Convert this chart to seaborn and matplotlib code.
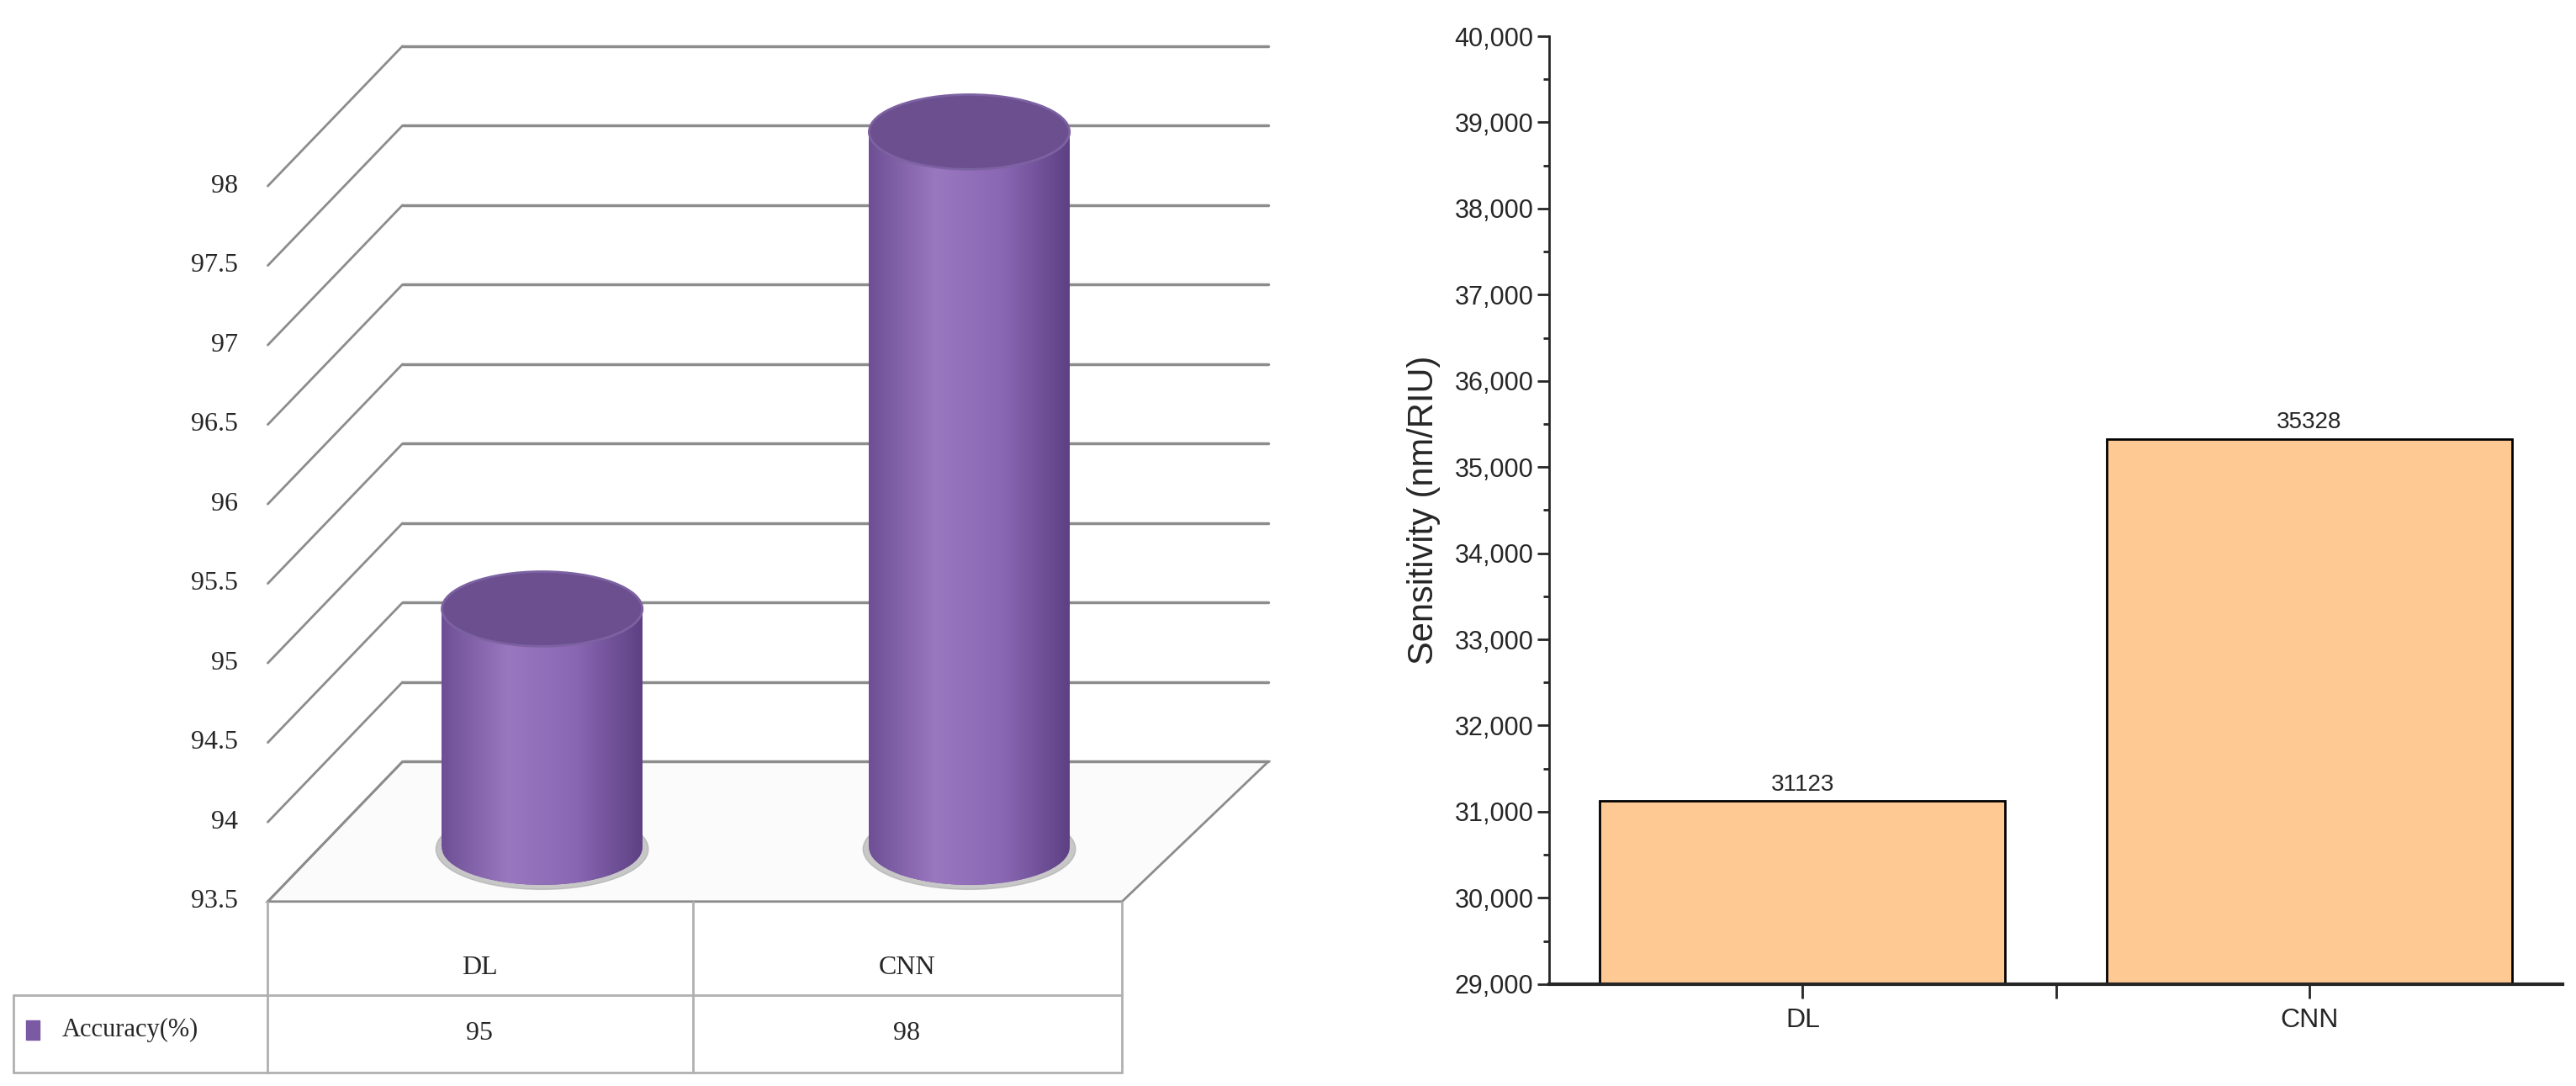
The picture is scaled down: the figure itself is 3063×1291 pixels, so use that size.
import numpy as np
import matplotlib.pyplot as plt
import seaborn as sns
from matplotlib.patches import Ellipse, Polygon
from matplotlib.ticker import FuncFormatter, MultipleLocator
from matplotlib.colors import LinearSegmentedColormap

# data
models = ["DL", "CNN"]
accuracy = [95, 98]
sensitivity = [31123, 35328]
acc_ticks = [93.5, 94, 94.5, 95, 95.5, 96, 96.5, 97, 97.5, 98]

sns.set_style("white")
plt.rcParams['font.family'] = ['Liberation Sans', 'DejaVu Sans']

fig = plt.figure(figsize=(30.63, 12.91), dpi=100)

# ---- left: pseudo-3D cylinder chart ----
ax = fig.add_axes([0, 0, 785 / 1568, 1])
ax.set_xlim(0, 785)
ax.set_ylim(92.34, 99.17)
ax.axis("off")
depth_v = 0.88
grid_c = "#8c8c8c"
for v in acc_ticks:
    ax.plot([163, 245], [v, v + depth_v], color=grid_c, lw=2)
    ax.plot([245, 772], [v + depth_v, v + depth_v], color=grid_c, lw=2.5)
    ax.text(145, v, f"{v:g}", ha="right", va="center", fontsize=23, family="Liberation Serif")
ax.add_patch(Polygon([(163, 93.5), (245, 93.5 + depth_v), (772, 93.5 + depth_v), (683, 93.5)],
                     closed=True, facecolor="#fbfbfb", edgecolor=grid_c, lw=2))

centers = [330, 590]
cyl_w = 122
base = 93.84
cap_h = 0.47
cmap = LinearSegmentedColormap.from_list("cyl", ["#6e4f95", "#9a78c0", "#8a67b3", "#5d4184"])
grad = np.linspace(0, 1, 256).reshape(1, -1)
for cx, val in zip(centers, accuracy):
    top = val + 0.34
    ax.add_patch(Ellipse((cx, base - 0.01), cyl_w * 1.06, cap_h * 1.08, color="#a5a5a5", alpha=0.6, zorder=2))
    bottom_el = Ellipse((cx, base), cyl_w, cap_h, color="#7a5aa3", zorder=2.5, lw=0)
    ax.add_patch(bottom_el)
    ax.imshow(grad, cmap=cmap, aspect="auto", zorder=2.6,
              extent=(cx - cyl_w / 2, cx + cyl_w / 2, base - cap_h / 2, base + cap_h / 2),
              clip_path=bottom_el)
    bars = ax.bar(cx, top - base, bottom=base, width=cyl_w, color="#8a67b3", zorder=3, lw=0)
    im = ax.imshow(grad, cmap=cmap, aspect="auto", zorder=3,
                   extent=(cx - cyl_w / 2, cx + cyl_w / 2, base, top))
    im.set_clip_path(bars[0])
    bars[0].set_visible(False)
    ax.add_patch(Ellipse((cx, top), cyl_w, cap_h, facecolor="#6b4f8f", edgecolor="#7d62a3", lw=2, zorder=4))
ax.set_xlim(0, 785)
ax.set_ylim(92.34, 99.17)

# data table under the chart
px = 96.6
def yv(p):
    return 93.5 - (p - 548) / px
tc = "#b0b0b0"
ax.plot([163, 163], [yv(548), yv(652)], color=tc, lw=2)
for x in [422, 683]:
    ax.plot([x, x], [yv(548), yv(652)], color=tc, lw=2)
ax.plot([8, 8], [yv(605), yv(652)], color=tc, lw=2)
ax.plot([8, 683], [yv(605), yv(605)], color=tc, lw=2)
ax.plot([8, 683], [yv(652), yv(652)], color=tc, lw=2)
for cx, name, val in zip([292, 552], models, accuracy):
    ax.text(cx, yv(588), name, ha="center", va="center", fontsize=23, family="Liberation Serif")
    ax.text(cx, yv(628), str(val), ha="center", va="center", fontsize=23, family="Liberation Serif")
ax.add_patch(Polygon([(16, yv(620)), (24, yv(620)), (24, yv(632)), (16, yv(632))], color="#7a5aa3"))
ax.text(38, yv(626), "Accuracy(%)", ha="left", va="center", fontsize=22, family="Liberation Serif")

# ---- right: sensitivity bars ----
ax2 = fig.add_axes([943 / 1568, 1 - 598 / 660, (1560 - 943) / 1568, (598 - 22) / 660])
sns.barplot(x=models, y=sensitivity, color="#ffc994", edgecolor="black", linewidth=2,
            width=0.8, saturation=1, ax=ax2)
ax2.set_ylim(29000, 40000)
ax2.set_xlim(-0.5, 1.5)
ax2.yaxis.set_major_locator(MultipleLocator(1000))
ax2.yaxis.set_minor_locator(MultipleLocator(500))
ax2.yaxis.set_major_formatter(FuncFormatter(lambda v, p: f"{int(v):,}"))
ax2.set_xticks([0.5], minor=True)
ax2.tick_params(axis="y", which="major", length=10, width=2, labelsize=22, left=True)
ax2.tick_params(axis="y", which="minor", length=5, width=2, left=True)
ax2.tick_params(axis="x", which="major", length=12, width=2, labelsize=23, pad=8, bottom=True)
ax2.tick_params(axis="x", which="minor", length=12, width=2, bottom=True)
for s in ["top", "right"]:
    ax2.spines[s].set_visible(False)
ax2.spines["left"].set_linewidth(2)
ax2.spines["bottom"].set_linewidth(3)
ax2.set_ylabel("Sensitivity (nm/RIU)", fontsize=30, labelpad=12)
for i, v in enumerate(sensitivity):
    ax2.text(i, v + 60, str(v), ha="center", va="bottom", fontsize=20)

fig.savefig("out.png", dpi=100)
